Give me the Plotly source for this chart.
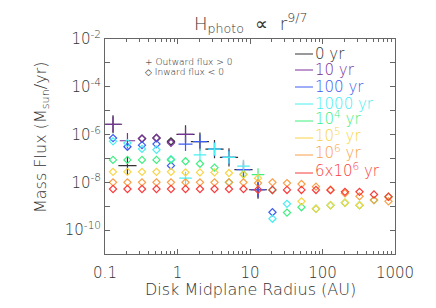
import plotly.graph_objects as go

# Disk midplane radius (AU) of each sample column
radius = [0.129, 0.204, 0.324, 0.513, 0.813, 1.29, 2.04, 3.24, 5.13, 8.13,
          12.9, 20.4, 32.4, 51.3, 81.3, 129, 204, 324, 513, 813]

# signed mass flux (Msun/yr): >0 outward (plus), <0 inward (diamond)
N = None
flux_0yr    = [2.7e-6, 5.0e-8, -6.8e-7, -7.2e-7, -5.2e-7, 1.02e-6, 5.1e-7, 2.45e-7, 1.1e-7, 3.4e-8,
               4.9e-9, N, N, N, N, N, N, N, N, N]
flux_10yr   = [2.7e-6, 5.5e-7, -6.8e-7, -7.2e-7, -4.5e-7, 1.02e-6, N, N, N, N,
               4.9e-9, N, N, N, N, N, N, N, N, N]
flux_100yr  = [-7.1e-7, -3.1e-7, -3.6e-7, -4.0e-7, -5.0e-8, 4.0e-7, 5.1e-7, 2.45e-7, 1.1e-7, 3.4e-8,
               4.9e-9, -5.6e-10, N, N, N, N, N, N, N, N]
flux_1e3yr  = [-5.2e-7, -4.4e-7, -2.5e-7, -2.3e-7, -9.3e-8, 1.5e-8, 1.4e-7, 2.45e-7, 1.1e-7, 4.8e-8,
               N, -3.0e-10, -1.26e-9, N, N, N, N, N, N, N]
flux_1e4yr  = [-8.7e-8, -8.7e-8, -8.7e-8, -8.7e-8, -8.7e-8, -7.6e-8, -6.0e-8, -4.1e-8, -1.0e-8, -2.2e-8,
               2.1e-8, -4.8e-9, -5.4e-10, -9.1e-10, -7.8e-10, -1.1e-9, -1.4e-9, -1.1e-9, -1.8e-9, -2.5e-9]
flux_1e5yr  = [-2.75e-8, -2.75e-8, -2.75e-8, -2.75e-8, -2.75e-8, -2.6e-8, -2.6e-8, -2.6e-8, -2.45e-8, -2.1e-8,
               -1.5e-8, N, N, -1.6e-9, -7.8e-10, -1.1e-9, -1.4e-9, -1.1e-9, N, -2.5e-9]
flux_1e6yr  = [-1.0e-8, -1.0e-8, -1.0e-8, -1.0e-8, -1.0e-8, -1.0e-8, -1.0e-8, -1.0e-8, -1.0e-8, -1.0e-8,
               -9.3e-9, -1.0e-8, -9.3e-9, -8.5e-9, -6.6e-9, -4.9e-9, -3.5e-9, -2.6e-9, -1.8e-9, -1.6e-9]
flux_6e6yr  = [-5.25e-9, -5.25e-9, -5.25e-9, -5.25e-9, -5.25e-9, -5.25e-9, -5.25e-9, -5.25e-9, -5.25e-9, -5.25e-9,
               -4.9e-9, -4.8e-9, -4.8e-9, -4.8e-9, -4.8e-9, -4.7e-9, -4.0e-9, -4.0e-9, -3.1e-9, -2.5e-9]

series_labels = ["0 yr", "10 yr", "100 yr", "1000 yr", "10<sup>4</sup> yr",
                 "10<sup>5</sup> yr", "10<sup>6</sup> yr", "6x10<sup>6</sup> yr"]
series_values = [flux_0yr, flux_10yr, flux_100yr, flux_1e3yr, flux_1e4yr,
                 flux_1e5yr, flux_1e6yr, flux_6e6yr]
colors = ["#333333", "#7a2f9a", "#3c5cf0", "#48eef0", "#40ee80",
          "#f8d448", "#f8a048", "#f83c3c"]
plus_sizes = [13, 11, 10, 9, 9, 9, 9, 9]

fig = go.Figure()
for lab, vals, col, ps in zip(series_labels, series_values, colors, plus_sizes):
    pos = [v if (v is not None and v > 0) else None for v in vals]
    neg = [-v if (v is not None and v < 0) else None for v in vals]
    fig.add_trace(go.Scatter(x=radius, y=neg, mode="markers", showlegend=False,
                             marker=dict(symbol="diamond-open", size=5.5, color=col,
                                         line=dict(width=1.2, color=col))))
    fig.add_trace(go.Scatter(x=radius, y=pos, mode="markers", showlegend=False,
                             marker=dict(symbol="cross-thin-open", size=ps, color=col,
                                         line=dict(width=1.2, color=col))))

PL, PR, PT, PB = 97, 387, 31, 246
W, H = 436, 308
def px(x): return (x - PL) / (PR - PL)
def py(y): return (PB - y) / (PB - PT)

font = "DejaVu Sans"
fw = 200
txtcol = "#333333"

# legend of series
leg_y = [46, 62, 79, 96, 113, 130, 147, 165]
for lab, col, y in zip(series_labels, colors, leg_y):
    fig.add_shape(type="line", xref="paper", yref="paper",
                  x0=px(287), x1=px(305), y0=py(y), y1=py(y),
                  line=dict(color=col, width=1))
    ys = 3 if "sup" in lab else 0
    fig.add_annotation(x=px(305), y=py(y), xref="paper", yref="paper", text=lab,
                       showarrow=False, xanchor="left", yanchor="middle", yshift=ys,
                       font=dict(family=font, size=15, color=col, weight=fw))

# symbol key
fig.add_annotation(x=px(135), y=py(54), xref="paper", yref="paper",
                   text="+ Outward flux > 0", showarrow=False, xanchor="left",
                   yanchor="middle", font=dict(family=font, size=9, color="#222222", weight=fw))
fig.add_annotation(x=px(135), y=py(64), xref="paper", yref="paper",
                   text="◇ Inward flux < 0", showarrow=False, xanchor="left",
                   yanchor="middle", font=dict(family=font, size=9, color="#222222", weight=fw))

# title and axis titles
fig.add_annotation(x=0.5, y=py(15), xref="paper", yref="paper",
                   text="H<sub>photo</sub>\u00a0\u00a0∝\u00a0\u00a0r<sup>9/7</sup>", showarrow=False,
                   xanchor="center", yanchor="middle",
                   font=dict(family=font, size=18, color=txtcol, weight=fw))
fig.add_annotation(x=0.5, y=py(281), xref="paper", yref="paper",
                   text="Disk Midplane Radius (AU)", showarrow=False,
                   xanchor="center", yanchor="middle",
                   font=dict(family=font, size=16, color=txtcol, weight=fw))
fig.add_annotation(x=px(33), y=py(130), xref="paper", yref="paper",
                   text="Mass Flux (M<sub>sun</sub>/yr)", showarrow=False, textangle=-90,
                   xanchor="center", yanchor="middle",
                   font=dict(family=font, size=16, color=txtcol, weight=fw))

x_tickvals = [0.1, 1, 10, 100, 1000]
x_ticktext = ["0.1", "1", "10", "100", "1000"]
x_minor = [d * m for d in [0.1, 1, 10, 100] for m in range(2, 10)]
y_tickvals = [10.0 ** e for e in range(-11, -1)]
y_ticktext = ["10<sup>-%d</sup>" % (-e) if e % 2 == 0 else "" for e in range(-11, -1)]

axcol = "#666666"
fig.update_xaxes(type="log", range=[-1, 3], tickvals=x_tickvals, ticktext=x_ticktext,
                 ticks="inside", ticklen=5, tickcolor=axcol, showline=True, linecolor=axcol,
                 linewidth=1, mirror="allticks", showgrid=False, zeroline=False,
                 tickfont=dict(family=font, size=15, color=txtcol, weight=fw), ticklabelstandoff=5,
                 minor=dict(ticks="inside", ticklen=3, tickcolor=axcol, showgrid=False,
                            tickmode="array", tickvals=x_minor))
fig.update_yaxes(type="log", range=[-11, -2], tickvals=y_tickvals, ticktext=y_ticktext,
                 ticks="inside", ticklen=5, tickcolor=axcol, showline=True, linecolor=axcol,
                 linewidth=1, mirror="allticks", showgrid=False, zeroline=False,
                 tickfont=dict(family=font, size=15, color=txtcol, weight=fw))

fig.update_layout(width=W, height=H, margin=dict(l=PL, r=W - PR, t=PT, b=H - PB),
                  plot_bgcolor="white", paper_bgcolor="white", showlegend=False)
fig.write_html("out.html")
